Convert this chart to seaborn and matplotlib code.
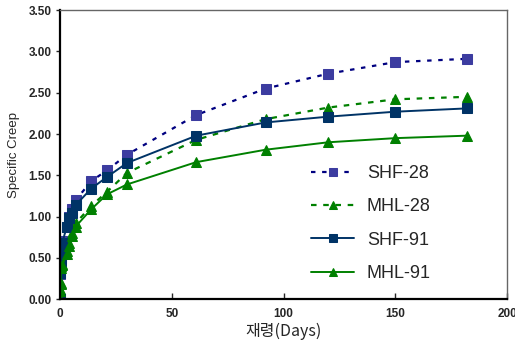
import matplotlib.pyplot as plt
import seaborn as sns
import numpy as np

# ages (days) and specific creep readings per mix
days = [0, 0.04, 0.25, 0.5, 1, 3, 4, 5.5, 7, 14, 21, 30, 61, 92, 120, 150, 182]
shf_28 = [0, 0.30, 0.50, 0.62, 0.70, 0.88, 1.00, 1.09, 1.20, 1.43, 1.56, 1.75, 2.23, 2.55, 2.73, 2.87, 2.91]
mhl_28 = [0, 0.12, 0.20, 0.40, 0.43, 0.58, 0.68, 0.80, 0.92, 1.13, 1.30, 1.53, 1.93, 2.18, 2.32, 2.42, 2.45]
shf_91 = [0, 0.32, 0.46, 0.58, 0.68, 0.88, 0.98, 1.04, 1.14, 1.34, 1.48, 1.65, 1.98, 2.14, 2.21, 2.27, 2.31]
mhl_91 = [0, 0.10, 0.18, 0.38, 0.41, 0.55, 0.64, 0.76, 0.88, 1.09, 1.27, 1.39, 1.66, 1.81, 1.90, 1.95, 1.98]

sns.set_style("white")
plt.rcParams['font.family'] = ['Liberation Sans', 'Noto Sans CJK KR', 'DejaVu Sans']

fig, ax = plt.subplots(figsize=(5.15, 3.47), dpi=100)
fig.subplots_adjust(left=0.1165, right=0.9845, bottom=0.1375, top=0.971)

# SHF-28: dotted navy, slate-blue squares
sns.lineplot(x=days, y=shf_28, ax=ax, color="#000080", lw=1.6,
             linestyle=(0, (2, 3)), marker="s", markersize=6.5,
             markerfacecolor="#3c3ca0", markeredgecolor="#3c3ca0", label="SHF-28")
sns.lineplot(x=days, y=mhl_28, ax=ax, color="#008000", lw=1.6,
             linestyle=(0, (2.5, 3)), marker="^", markersize=7.5,
             markeredgecolor="#008000", label="MHL-28")
sns.lineplot(x=days, y=shf_91, ax=ax, color="#003366", lw=1.4,
             marker="s", markersize=6.5, markeredgecolor="#003366", label="SHF-91")
sns.lineplot(x=days, y=mhl_91, ax=ax, color="#008000", lw=1.4,
             marker="^", markersize=7.5, markeredgecolor="#008000", label="MHL-91")

ax.set_xlim(0, 200)
ax.set_ylim(0, 3.5)
ax.set_xticks(np.arange(0, 201, 50))
ax.set_yticks(np.arange(0, 3.51, 0.5))
ax.set_yticklabels([f"{v:.2f}" for v in np.arange(0, 3.51, 0.5)])
for lab in ax.get_xticklabels() + ax.get_yticklabels():
    lab.set_fontweight("bold")
    lab.set_fontsize(8.5)

ax.tick_params(axis="y", direction="out", length=3, width=1, left=True, pad=3)
ax.tick_params(axis="x", direction="in", length=4, width=1, bottom=True, pad=6)

for s in ["left", "bottom"]:
    ax.spines[s].set_color("black")
    ax.spines[s].set_linewidth(1.6)
for s in ["top", "right"]:
    ax.spines[s].set_color("#666666")
    ax.spines[s].set_linewidth(1.0)

ax.set_xlabel("재령(Days)", fontsize=11.5, family=['Noto Sans CJK KR', 'DejaVu Sans'], labelpad=2)
ax.set_ylabel("Specific Creep", fontsize=9.5, labelpad=6)

leg = ax.legend(loc="upper left", bbox_to_anchor=(0.525, 0.52), frameon=False,
                fontsize=13, handlelength=2.4, labelspacing=0.9, handletextpad=0.7,
                markerscale=0.8)

fig.savefig("out.png")
